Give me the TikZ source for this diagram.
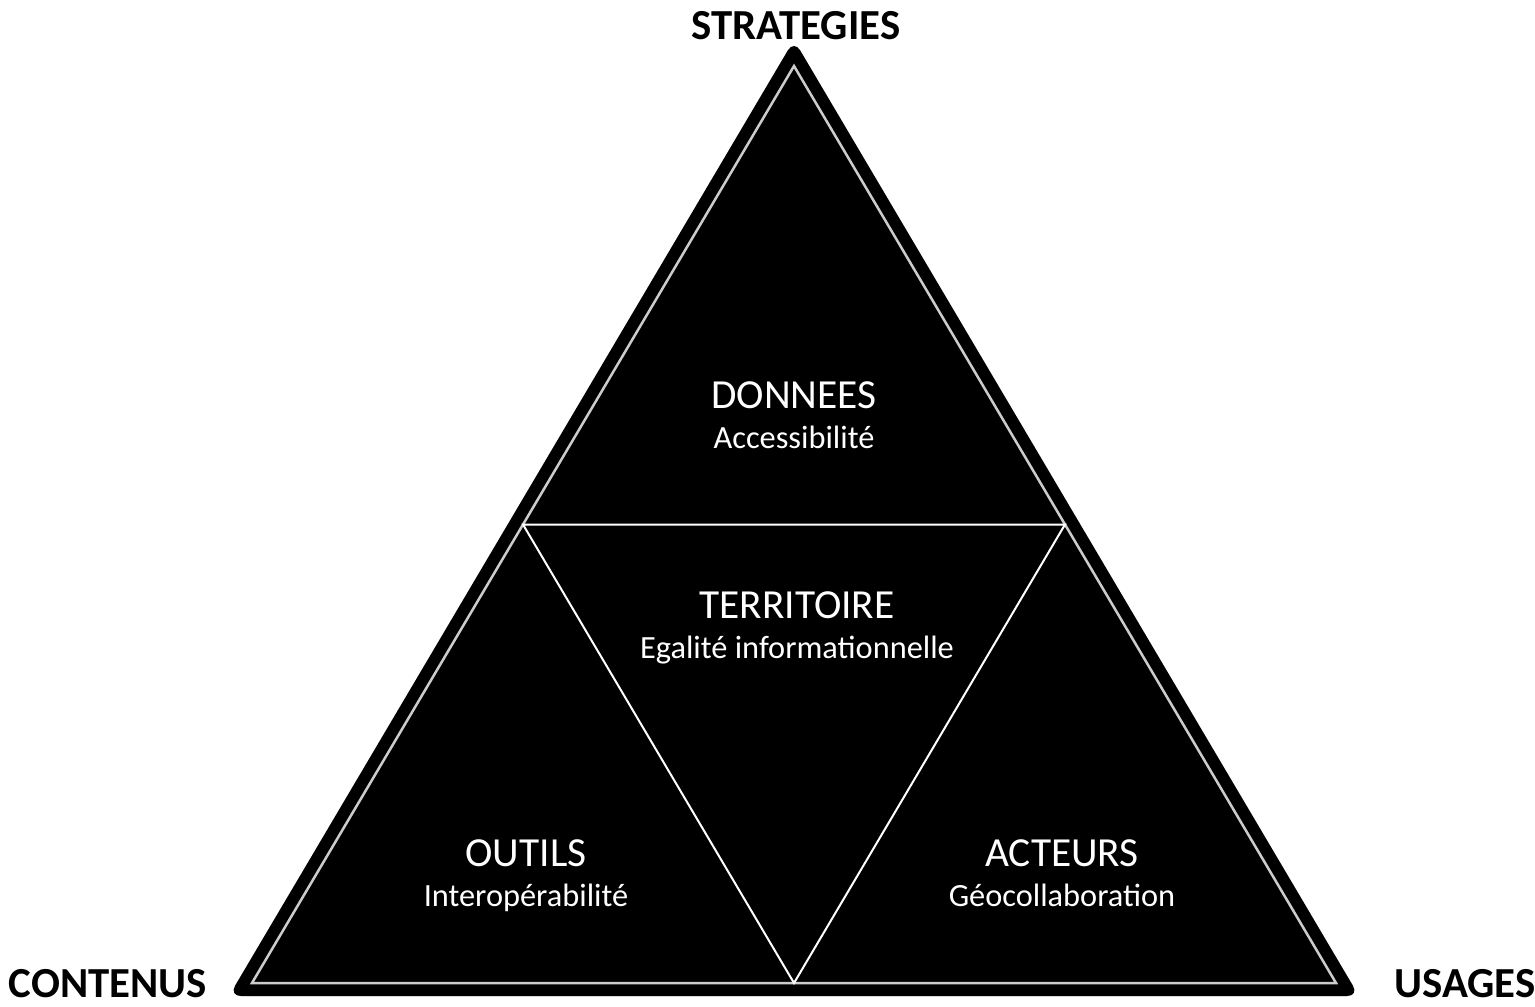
\documentclass[tikz,border=0pt]{standalone}
\usepackage{fontspec}
\setmainfont{Carlito}
\usetikzlibrary{positioning,calc}

\tikzset{
  corner/.style={font=\fontsize{43}{51}\selectfont\bfseries, anchor=base, text=black, inner sep=0pt},
  zone/.style={font=\fontsize{41.5}{49}\selectfont, anchor=base, text=white, inner sep=0pt},
  zonesub/.style={font=\fontsize{32.5}{39}\selectfont, anchor=base, text=white, inner sep=0pt},
  rim/.style={fill=black, rounded corners=12bp},
  border/.style={draw=gray!40, line width=2.5bp},
  split/.style={draw=white, line width=2bp}
}

\begin{document}
\begin{tikzpicture}[x=1bp,y=-1bp]
    \useasboundingbox (0,0) rectangle (1535,1006);
    % Corners of the triangle
    \coordinate (top) at (794,66);
    \coordinate (left) at (252,983);
    \coordinate (right) at (1336,983);
    \coordinate (midL) at ($(top)!0.5!(left)$);
    \coordinate (midR) at ($(top)!0.5!(right)$);
    \coordinate (midB) at ($(left)!0.5!(right)$);
    \coordinate (outTop) at (794,40);
    \coordinate (outLeft) at (229,996);
    \coordinate (outRight) at (1359,996);

    % Shadow and body
    \path[rim, fill=black!20, shift={(0,5)}] (outTop) -- (outLeft) -- (outRight) -- cycle;
    \path[rim] (outTop) -- (outLeft) -- (outRight) -- cycle;
    \draw[border] (top) -- (left) -- (right) -- cycle;
    \draw[split] (midL) -- (midR) -- (midB) -- cycle;

    % Poles
    \node[corner] (strategies) at (796,39) {STRATEGIES};
    \node[corner] (contenus) at (108,997) {CONTENUS};
    \node[corner] (usages) at (1465,997) {USAGES};

    % Zones
    \node[zone] (donnees) at (794,408) {DONNEES};
    \node[zonesub] (donneesSub) at (794,448) {Accessibilité};
    \node[zone] (territoire) at (797,618) {TERRITOIRE};
    \node[zonesub] (territoireSub) at (797,658) {Egalité informationnelle};
    \node[zone] (outils) at (526,866) {OUTILS};
    \node[zonesub] (outilsSub) at (526,906) {Interopérabilité};
    \node[zone] (acteurs) at (1062,866) {ACTEURS};
    \node[zonesub] (acteursSub) at (1062,906) {Géocollaboration};
\end{tikzpicture}
\end{document}
